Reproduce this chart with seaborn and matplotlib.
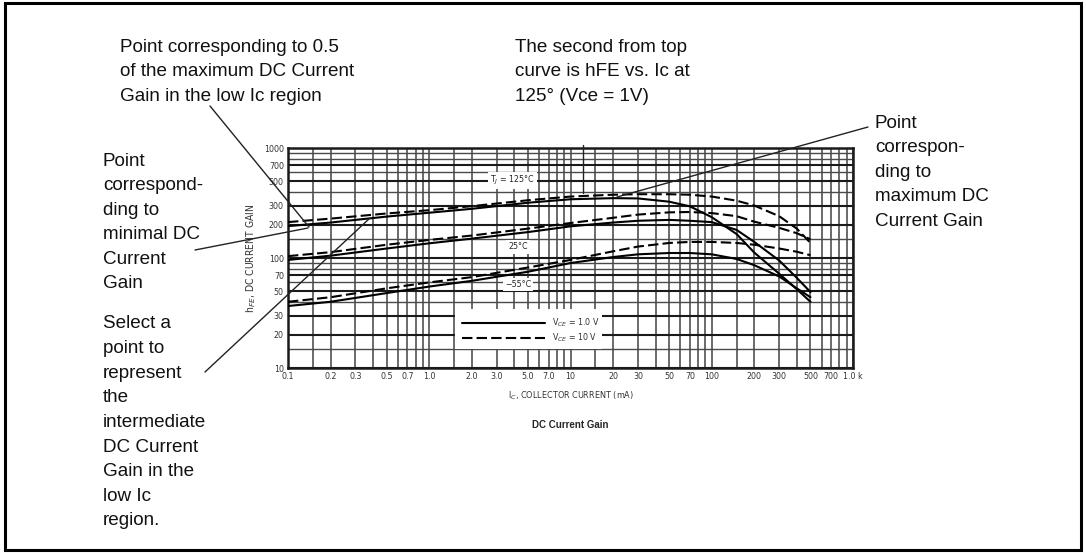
import numpy as np
import pandas as pd
import matplotlib
matplotlib.use("Agg")
import matplotlib.pyplot as plt
from matplotlib.patches import Rectangle
import seaborn as sns

sns.set_style("white")
plt.rcParams['font.family'] = ['Liberation Sans', 'DejaVu Sans']

# ---------------- data (Ic in mA, hFE) ----------------
ic = [0.1, 0.2, 0.5, 1, 2, 5, 10, 20, 30, 50, 70, 100, 150, 200, 300, 400, 500]
hfe_125_10v = [212, 228, 254, 272, 296, 335, 362, 376, 380, 380, 376, 362, 332, 300, 240, 185, 137]
hfe_125_1v = [195, 210, 238, 258, 280, 318, 342, 350, 348, 325, 295, 235, 165, 112, 72, 52, 40]
hfe_25_10v = [104, 113, 132, 146, 160, 185, 208, 232, 248, 260, 262, 256, 240, 214, 188, 168, 148]
hfe_25_1v = [96, 105, 122, 136, 150, 172, 194, 210, 218, 222, 218, 212, 180, 140, 95, 66, 49]
hfe_m55_10v = [40, 44, 53, 60, 67, 82, 96, 115, 127, 137, 140, 140, 137, 132, 122, 114, 106]
hfe_m55_1v = [36.6, 40, 48, 55, 62, 75, 90, 102, 108, 111, 111, 108, 98, 86, 68, 53, 44]

curves = [("125", "10", hfe_125_10v), ("125", "1", hfe_125_1v),
          ("25", "10", hfe_25_10v), ("25", "1", hfe_25_1v),
          ("-55", "10", hfe_m55_10v), ("-55", "1", hfe_m55_1v)]

x_ticks = [0.1, 0.2, 0.3, 0.5, 0.7, 1, 2, 3, 5, 7, 10, 20, 30, 50, 70, 100, 200, 300, 500, 700, 1000]
x_tick_labels = ["0.1", "0.2", "0.3", "0.5", "0.7", "1.0", "2.0", "3.0", "5.0", "7.0", "10", "20",
                 "30", "50", "70", "100", "200", "300", "500", "700", "1.0 k"]
y_ticks = [10, 20, 30, 50, 70, 100, 200, 300, 500, 700, 1000]
y_tick_labels = ["10", "20", "30", "50", "70", "100", "200", "300", "500", "700", "1000"]

note_half = ["Point corresponding to 0.5", "of the maximum DC Current", "Gain in the low Ic region"]
note_second = ["The second from top", "curve is hFE vs. Ic at", "125° (Vce = 1V)"]
note_min = ["Point", "correspond-", "ding to", "minimal DC", "Current", "Gain"]
note_inter = ["Select a", "point to", "represent", "the", "intermediate", "DC Current",
              "Gain in the", "low Ic", "region."]
note_max = ["Point", "correspon-", "ding to", "maximum DC", "Current Gain"]

rows = []
for t, v, vals in curves:
    for x, y in zip(ic, vals):
        rows.append({"Ic": x, "hFE": y, "curve": f"{t}_{v}", "Vce": v})
df = pd.DataFrame(rows)

W, H = 1086, 553
fig = plt.figure(figsize=(W / 100, H / 100), dpi=100)
fig.patch.set_facecolor("white")

L, R, T, B = 288, 853, 148, 368
ax = fig.add_axes([L / W, (H - B) / H, (R - L) / W, (B - T) / H])

for name, sub in df.groupby("curve", sort=False):
    dashed = sub["Vce"].iloc[0] == "10"
    sns.lineplot(data=sub, x="Ic", y="hFE", ax=ax, color="black", lw=1.5,
                 linestyle=(0, (5, 2)) if dashed else "-", sort=False, estimator=None,
                 legend=False, zorder=3)

ax.set_xscale("log")
ax.set_yscale("log")
ax.set_xlim(0.1, 1000)
ax.set_ylim(10, 1000)

small = dict(family=['DejaVu Sans', 'Liberation Sans'], fontstretch='condensed')
ax.set_xticks(x_ticks)
ax.set_xticklabels(x_tick_labels, fontsize=6.3, color="#333333", **small)
ax.set_yticks(y_ticks)
ax.set_yticklabels(y_tick_labels, fontsize=6.3, color="#333333", **small)
minor_x = [m * 10.0 ** e for e in range(-1, 3) for m in (1.5, 4, 6, 8, 9)]
minor_y = [m * 10.0 ** e for e in range(1, 3) for m in (1.5, 4, 6, 8, 9)]
ax.set_xticks(minor_x, minor=True)
ax.set_yticks(minor_y, minor=True)
ax.xaxis.set_minor_formatter(matplotlib.ticker.NullFormatter())
ax.yaxis.set_minor_formatter(matplotlib.ticker.NullFormatter())
ax.tick_params(which="both", length=0, pad=3)
ax.set_axisbelow(True)
ax.grid(which="major", axis="y", color="#1a1a1a", lw=1.5)
ax.grid(which="minor", axis="y", color="#4a4a4a", lw=1.0)
ax.grid(which="both", axis="x", color="#4a4a4a", lw=1.15)
for s in ax.spines.values():
    s.set_color("#1a1a1a")
    s.set_linewidth(1.8)

ax.set_xlabel("I$_C$, COLLECTOR CURRENT (mA)", fontsize=6.5, color="#333333", labelpad=6, **small)
ax.set_ylabel("h$_{FE}$, DC CURRENT GAIN", fontsize=7.5, color="#333333", labelpad=4, **small)
ax.text(0.5, -0.26, "DC Current Gain", transform=ax.transAxes, ha="center", va="center",
        fontsize=7, fontweight="bold", family=['Liberation Sans'])

# legend box
ax.add_patch(Rectangle((0.2956, 0.0864), 0.2602, 0.1816, transform=ax.transAxes,
                       facecolor="white", edgecolor="none", zorder=2))
ax.plot([0.308, 0.455], [0.2045, 0.2045], transform=ax.transAxes, color="black", lw=1.5, zorder=3)
ax.plot([0.308, 0.455], [0.136, 0.136], transform=ax.transAxes, color="black", lw=1.5,
        linestyle=(0, (5, 2)), zorder=3)
ax.text(0.467, 0.2045, "V$_{CE}$ = 1.0 V", transform=ax.transAxes, fontsize=6.3,
        va="center", color="#333333", zorder=3, **small)
ax.text(0.467, 0.136, "V$_{CE}$ = 10 V", transform=ax.transAxes, fontsize=6.3,
        va="center", color="#333333", zorder=3, **small)

# curve labels
box = dict(facecolor="white", edgecolor="none", pad=1.5)
ax.text(3.9, 510, "T$_J$ = 125°C", fontsize=6.3, ha="center", va="center", bbox=box, zorder=2.5, **small)
ax.text(4.25, 126, "25°C", fontsize=6.3, ha="center", va="center", bbox=box, zorder=2.5, **small)
ax.text(4.25, 57, "\u221255°C", fontsize=6.3, ha="center", va="center", bbox=box, zorder=2.5, **small)

# overlay for annotations (pixel coordinates)
ov = fig.add_axes([0, 0, 1, 1], zorder=5)
ov.set_xlim(0, W)
ov.set_ylim(H, 0)
ov.axis("off")
ov.patch.set_alpha(0)

ov.add_patch(Rectangle((5, 3), W - 10, H - 6, facecolor="none", edgecolor="black", lw=2.2))

fs = 13.6
step = 24.6
def block(lines, x, y0):
    for i, s in enumerate(lines):
        ov.text(x, y0 + i * step, s, fontsize=fs, ha="left", va="center", color="#111111")

block(note_half, 120, 47)
block(note_second, 515, 47)
block(note_min, 103, 161)
block(note_inter, 103, 324)
block(note_max, 875, 123)

lc = "#222222"
ov.plot([210, 309], [106, 227], color=lc, lw=1.0)
ov.plot([195, 308], [250, 228], color=lc, lw=1.0)
ov.plot([205, 370], [372, 218], color=lc, lw=1.0)
ov.plot([868, 617], [127, 197], color=lc, lw=1.0)
ov.plot([583, 583], [145, 193], color=lc, lw=1.0)

fig.savefig("out.png", dpi=100)
